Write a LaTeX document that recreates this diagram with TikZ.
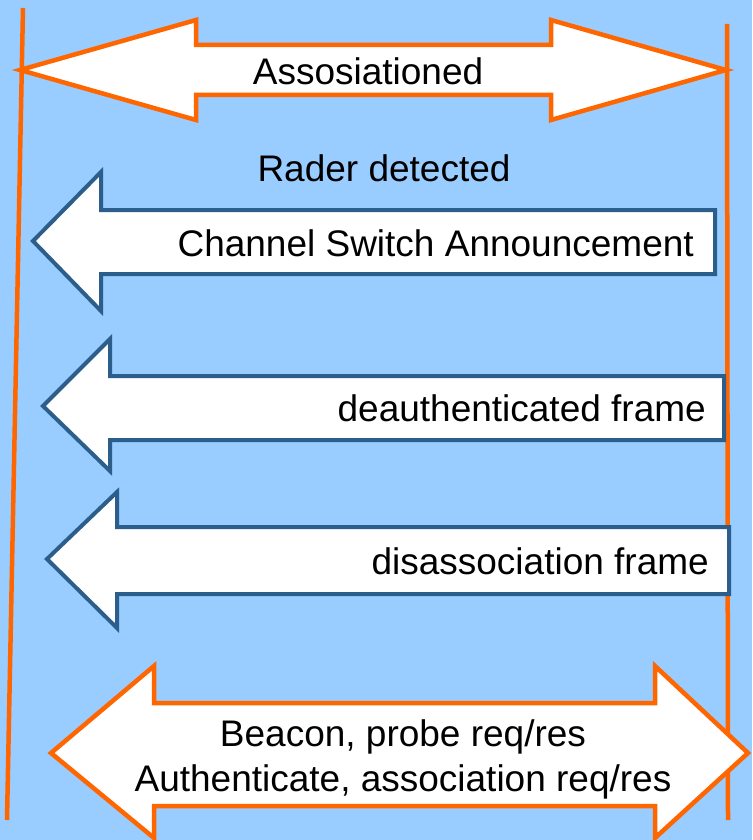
\documentclass[tikz,border=0pt]{standalone}
\usepackage{fontspec}
\setmainfont{Liberation Sans}
\definecolor{bg}{RGB}{153,204,255}
\definecolor{org}{RGB}{255,102,0}
\definecolor{navy}{RGB}{44,94,140}
\tikzset{
  lifeline/.style={draw=org, line width=4.5pt},
  orangearrow/.style={draw=org, fill=white, line width=4.5pt, line join=miter},
  bluearrow/.style={draw=navy, fill=white, line width=4pt, line join=miter},
  lbl/.style={inner sep=0pt, font=\fontsize{37}{45}\selectfont, text=black}
}
\begin{document}
\begin{tikzpicture}[x=1pt,y=-1pt]
\fill[bg] (0,0) rectangle (752,840);
\useasboundingbox (0,0) rectangle (752,840);
% lifelines
\coordinate (lt) at (23,8); \coordinate (lb) at (7,820);
\coordinate (rt) at (727,24); \coordinate (rb) at (728,820);
\draw[lifeline] (lt) -- (lb);
\draw[lifeline] (rt) -- (rb);
% top double arrow
\draw[orangearrow] (20,70) -- (196,20) -- (196,45) -- (551,45) -- (551,20) -- (726,70)
  -- (551,120) -- (551,95) -- (196,95) -- (196,120) -- cycle;
\node[lbl, anchor=base] (assoc) at (368,85) {Assosiationed};
\node[lbl, anchor=base] (radar) at (384,181) {Rader detected};
% channel switch
\draw[bluearrow] (33,241) -- (101,172) -- (101,210) -- (715,210) -- (715,274)
  -- (101,274) -- (101,311) -- cycle;
\node[lbl, anchor=base east] (csa) at (694,256) {Channel Switch Announcement};
% deauth
\draw[bluearrow] (43,406) -- (110,339) -- (110,376) -- (724,376) -- (724,440)
  -- (110,440) -- (110,471) -- cycle;
\node[lbl, anchor=base east] (deauth) at (706,421) {deauthenticated frame};
% disassoc
\draw[bluearrow] (47,559) -- (117,492) -- (117,527) -- (729,527) -- (729,594)
  -- (117,594) -- (117,628) -- cycle;
\node[lbl, anchor=base east] (disassoc) at (709,574) {disassociation frame};
% bottom double arrow
\draw[orangearrow] (51,753) -- (154,666) -- (154,703) -- (655,703) -- (655,666) -- (748,753)
  -- (655,838) -- (655,806) -- (154,806) -- (154,838) -- cycle;
\node[lbl, anchor=base] (beacon) at (403,746) {Beacon, probe req/res};
\node[lbl, anchor=base] (auth) at (403,791) {Authenticate, association req/res};
\end{tikzpicture}
\end{document}
